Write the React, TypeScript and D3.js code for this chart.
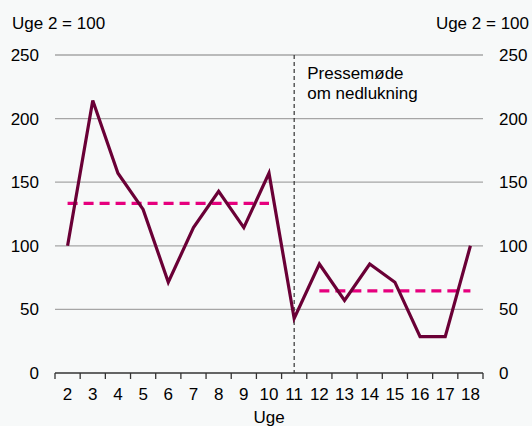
import React, { useEffect, useRef } from "react";
import * as d3 from "d3";

const weeks = ["2", "3", "4", "5", "6", "7", "8", "9", "10", "11", "12", "13", "14", "15", "16", "17", "18"];
const values = [100, 214.3, 157.1, 128.6, 71.4, 114.3, 142.9, 114.3, 157.1, 42.9, 85.7, 57.1, 85.7, 71.4, 28.6, 28.6, 100];
const avgBefore = { from: "2", to: "10", value: 133.3 };
const avgAfter = { from: "12", to: "18", value: 64.5 };
const markerWeek = "11";
const yTicks = [0, 50, 100, 150, 200, 250];
const annotation = ["Pressemøde", "om nedlukning"];
const indexLabel = "Uge 2 = 100";
const xTitle = "Uge";

const W = 532, H = 426;
const M = { left: 55, right: 49, top: 55, bottom: 53 };
const FONT = "Liberation Sans, Arial, sans-serif";

export default function App() {
  const ref = useRef<SVGSVGElement>(null);
  useEffect(() => {
    const svg = d3.select(ref.current);
    svg.selectAll("*").remove();
    const x = d3.scaleBand().domain(weeks).range([M.left, W - M.right]).padding(0);
    const y = d3.scaleLinear().domain([0, 250]).range([H - M.bottom, M.top]);
    const cx = (w: string) => (x(w) as number) + x.bandwidth() / 2;

    svg.append("rect").attr("width", W).attr("height", H).attr("fill", "#f7f9f9");

    // gridlines
    svg.append("g").selectAll("line").data(yTicks.filter(t => t > 0)).join("line")
      .attr("x1", M.left).attr("x2", W - M.right)
      .attr("y1", d => y(d)).attr("y2", d => y(d))
      .attr("stroke", "#a6a6a6").attr("stroke-width", 1.3);

    // y labels
    svg.append("g").selectAll("text").data(yTicks).join("text")
      .attr("x", 39).attr("y", d => y(d)).attr("dy", "0.35em")
      .attr("text-anchor", "end").attr("font-family", FONT).attr("font-size", 17).attr("fill", "#000")
      .text(d => d);
    svg.append("g").selectAll("text").data(yTicks).join("text")
      .attr("x", 499).attr("y", d => y(d)).attr("dy", "0.35em")
      .attr("text-anchor", "start").attr("font-family", FONT).attr("font-size", 17).attr("fill", "#000")
      .text(d => d);

    svg.append("text").attr("x", 12).attr("y", 29).attr("font-family", FONT).attr("font-size", 17).text(indexLabel);
    svg.append("text").attr("x", 529).attr("y", 29).attr("text-anchor", "end").attr("font-family", FONT).attr("font-size", 17).text(indexLabel);

    // x axis
    const y0 = y(0);
    svg.append("line").attr("x1", M.left).attr("x2", W - M.right).attr("y1", y0).attr("y2", y0)
      .attr("stroke", "#333").attr("stroke-width", 1.3);
    const tickPos = [...weeks.map(w => x(w) as number), W - M.right];
    svg.append("g").selectAll("line").data(tickPos).join("line")
      .attr("x1", d => d).attr("x2", d => d).attr("y1", y0).attr("y2", y0 + 6)
      .attr("stroke", "#333").attr("stroke-width", 1.3);
    svg.append("g").selectAll("text").data(weeks).join("text")
      .attr("x", d => cx(d)).attr("y", y0 + 27).attr("text-anchor", "middle")
      .attr("font-family", FONT).attr("font-size", 17).text(d => d);
    svg.append("text").attr("x", 269).attr("y", 423).attr("text-anchor", "middle")
      .attr("font-family", FONT).attr("font-size", 17).text(xTitle);

    // vertical marker
    svg.append("line").attr("x1", cx(markerWeek)).attr("x2", cx(markerWeek))
      .attr("y1", y(250)).attr("y2", y0)
      .attr("stroke", "#333").attr("stroke-width", 1.2).attr("stroke-dasharray", "4,3");
    const t = svg.append("text").attr("font-family", FONT).attr("font-size", 17).attr("fill", "#000");
    annotation.forEach((s, i) => {
      t.append("tspan").attr("x", cx(markerWeek) + 13).attr("y", 79 + i * 20).text(s);
    });

    // averages
    [avgBefore, avgAfter].forEach(a => {
      svg.append("line").attr("x1", cx(a.from)).attr("x2", cx(a.to))
        .attr("y1", y(a.value)).attr("y2", y(a.value))
        .attr("stroke", "#e6007e").attr("stroke-width", 3.2).attr("stroke-dasharray", "10,6");
    });

    // main line
    const line = d3.line<number>().x((_, i) => cx(weeks[i])).y(d => y(d));
    svg.append("path").attr("d", line(values) as string).attr("fill", "none")
      .attr("stroke", "#6a0036").attr("stroke-width", 3.2).attr("stroke-linejoin", "miter");
  }, []);
  return (
    <svg ref={ref} width={W} height={H} style={{ position: "absolute", left: 0, top: 0 }} />
  );
}
